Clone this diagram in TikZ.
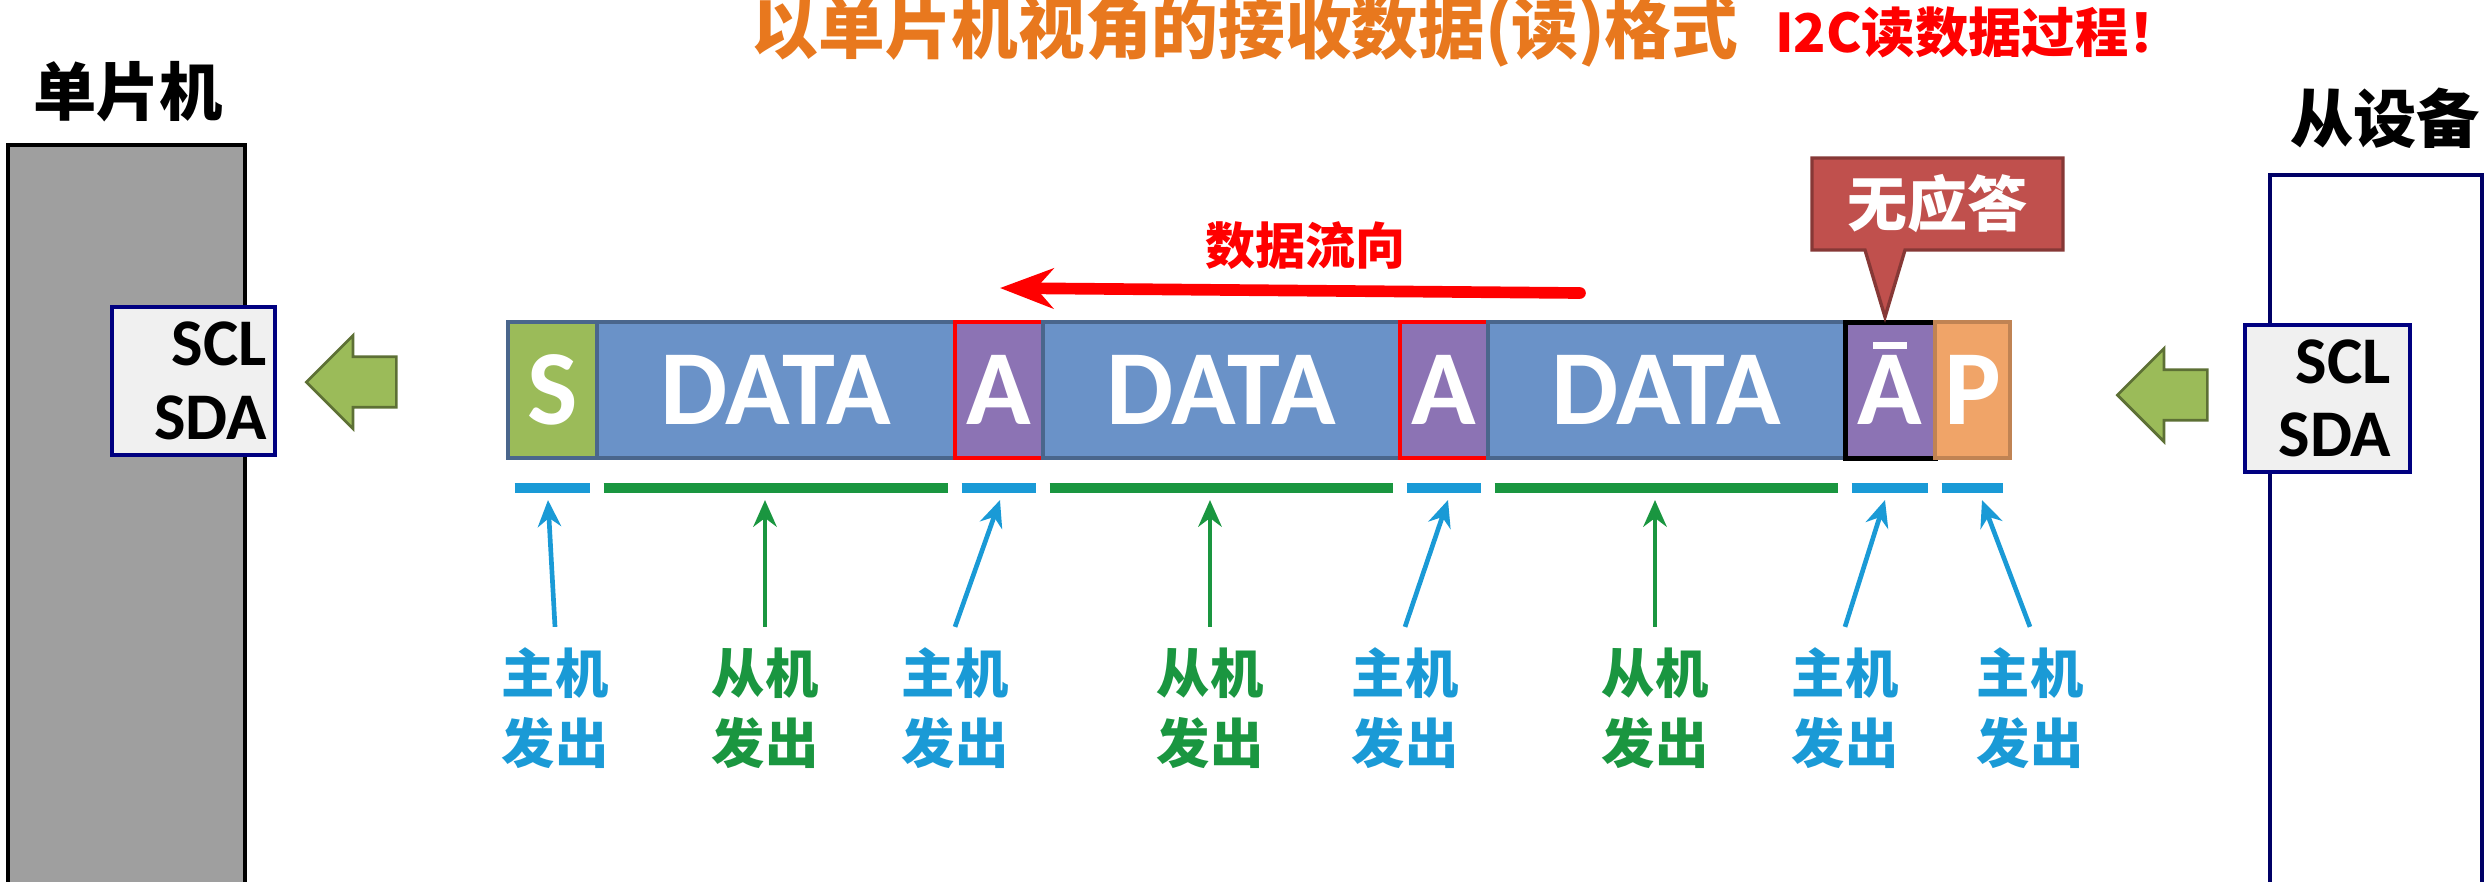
\documentclass[tikz,border=0pt]{standalone}
\usepackage{fontspec}
\setmainfont{Carlito}
\newfontfamily\cjk{Noto Sans CJK SC}
\usetikzlibrary{positioning,arrows.meta,shapes.arrows}
\definecolor{segblue}{RGB}{106,146,200}
\definecolor{segpurple}{RGB}{140,115,180}
\definecolor{seggreen}{RGB}{155,187,89}
\definecolor{segorange}{RGB}{240,164,104}
\definecolor{hostcyan}{RGB}{26,154,214}
\definecolor{slavegreen}{RGB}{26,150,64}
\definecolor{titleorange}{RGB}{232,120,30}
\definecolor{tipred}{RGB}{192,80,77}
\tikzset{
  seg/.style={draw=segblue!70!black, line width=1pt, minimum height=40.8pt, inner sep=0pt, outer sep=0pt,
    text=white, font=\bfseries\fontsize{32}{32}\selectfont},
  iface/.style={draw=blue!50!black, fill=gray!12, line width=1pt, align=right,
    font=\bfseries\fontsize{20}{22}\selectfont, inner sep=0pt},
  who/.style={font=\cjk\bfseries\fontsize{16}{21}\selectfont, align=center, inner sep=0pt},
  upar/.style={-{Stealth[length=8pt,width=7pt]}, line width=1.4pt},
  fatarrow/.style={single arrow, draw=seggreen!60!black, fill=seggreen, line width=0.8pt,
    minimum height=27pt, minimum width=28pt, single arrow head extend=5pt, shape border rotate=180, inner sep=5.5pt}
}
\begin{document}
\begin{tikzpicture}[x=0.3pt,y=-0.3pt]
  \useasboundingbox (0,0) rectangle (2490,881);
  % title
  \node[font=\cjk\bfseries\fontsize{20}{20}\selectfont, text=titleorange] (title) at (1245,32) {以单片机视角的接收数据(读)格式};
  \node[font=\cjk\bfseries\fontsize{16}{16}\selectfont, text=red, right=4pt of title] (subtitle) {I2C读数据过程！};

  % devices
  \draw[fill=gray!75, line width=1.2pt] (8,145) rectangle (245,895);
  \node[font=\cjk\bfseries\fontsize{19}{19}\selectfont] (mcu) at (128,92) {单片机};
  \draw[draw=blue!40!black, fill=white, line width=1.2pt] (2270,175) rectangle (2482,895);
  \node[font=\cjk\bfseries\fontsize{19}{19}\selectfont] (slave) at (2385,118) {从设备};
  \node[iface, minimum width=48.9pt, minimum height=44.4pt, text width=44pt] (ifl) at (193.5,381) {SCL\\SDA};
  \node[iface, minimum width=49.5pt, minimum height=44.1pt, text width=38pt] (ifr) at (2327.5,398.5) {SCL\\SDA};
  \node[fatarrow] (arl) at (364,382) {};
  \node[fatarrow] (arr) at (2175,395) {};

  % frame
  \node[seg, fill=seggreen, minimum width=26.7pt, anchor=west] (s) at (508,390) {S};
  \node[seg, fill=segblue, minimum width=107.4pt, right=0pt of s] (d1) {DATA};
  \node[seg, fill=segpurple, draw=red, minimum width=26.4pt, right=0pt of d1] (a1) {A};
  \node[seg, fill=segblue, minimum width=107.1pt, right=0pt of a1] (d2) {DATA};
  \node[seg, fill=segpurple, draw=red, minimum width=26.4pt, right=0pt of d2] (a2) {A};
  \node[seg, fill=segblue, minimum width=107.1pt, right=0pt of a2] (d3) {DATA};
  \node[seg, fill=segpurple, draw=black, line width=1.5pt, minimum width=27pt, right=0pt of d3] (na) {A};
  \node[seg, fill=segorange, draw=segorange!80!black, minimum width=22.5pt, right=0pt of na] (p) {P};
  \draw[white, line width=2pt] ([xshift=-5pt,yshift=-7pt]na.north) -- ([xshift=5pt,yshift=-7pt]na.north);

  % data direction
  \node[font=\cjk\bfseries\fontsize{15}{15}\selectfont, text=red] (flow) at (1305,246) {数据流向};
  \coordinate (flowa) at (1580,293);
  \coordinate (flowb) at (1000,288);
  \draw[-{Stealth[length=16pt,width=12pt]}, red, line width=3.5pt, line cap=round] (flowa) -- (flowb);

  % no ack callout
  \coordinate (tip) at (1885,317);
  \draw[fill=tipred, draw=tipred!70!black, line width=1pt] (1812,158) -- (2063,158) -- (2063,250) -- (1905,250) -- (tip) -- (1865,250) -- (1812,250) -- cycle;
  \node[font=\cjk\bfseries\fontsize{18}{18}\selectfont, text=white] (nack) at (1937,204) {无应答};

  % who drives each field
  \foreach \f/\c/\x/\y in {s/hostcyan/555/548, d1/slavegreen/765/765, a1/hostcyan/955/1000,
      d2/slavegreen/1210/1210, a2/hostcyan/1405/1448, d3/slavegreen/1655/1655,
      na/hostcyan/1845/1885, p/hostcyan/2030/1982} {
    \draw[\c, line width=3pt] ([xshift=2pt,yshift=-9pt]\f.south west) -- ([xshift=-2pt,yshift=-9pt]\f.south east);
    \coordinate (\f top) at (\y,500);
  }
  \node[who, text=hostcyan] (ws) at (555,708) {主机\\发出};
  \node[who, text=slavegreen] (wd1) at (765,708) {从机\\发出};
  \node[who, text=hostcyan] (wa1) at (955,708) {主机\\发出};
  \node[who, text=slavegreen] (wd2) at (1210,708) {从机\\发出};
  \node[who, text=hostcyan] (wa2) at (1405,708) {主机\\发出};
  \node[who, text=slavegreen] (wd3) at (1655,708) {从机\\发出};
  \node[who, text=hostcyan] (wna) at (1845,708) {主机\\发出};
  \node[who, text=hostcyan] (wp) at (2030,708) {主机\\发出};
  \foreach \f/\c in {s/hostcyan, d1/slavegreen, a1/hostcyan, d2/slavegreen, a2/hostcyan,
      d3/slavegreen, na/hostcyan, p/hostcyan}
    \draw[upar, \c] ([yshift=6pt]w\f.north) -- (\f top);
\end{tikzpicture}
\end{document}
